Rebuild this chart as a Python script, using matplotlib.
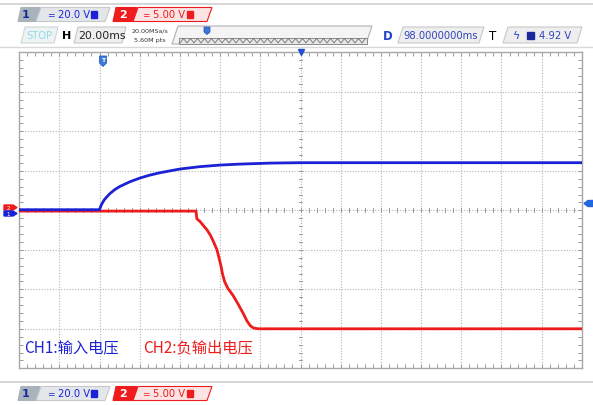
import numpy as np
import matplotlib
matplotlib.use("Agg")
import matplotlib.pyplot as plt
from matplotlib.patches import Polygon, Rectangle

# ---------------- data ----------------
# time in ms relative to the trigger, voltages in volts
ch1_t = [-40, 0, 1, 2.5, 5, 7.5, 10, 15, 20, 25, 30, 40, 50, 60, 70, 85, 100, 240]
ch1_v = [0.3, 0.3, 3.0, 5.5, 8.3, 10.4, 12.0, 14.4, 16.3, 17.8, 19.0, 20.9, 22.1, 22.9, 23.4, 23.9, 24.1, 24.1]

ch2_t = [-40, 48.0, 48.46, 50.1, 51.7, 53.4, 55.1, 56.7, 58.4, 59.6, 60.4, 61.2, 62.2,
         63.8, 66.5, 69.2, 71.6, 73.3, 75.0, 76.6, 79.1, 240]
ch2_v = [-0.1, -0.1, -1.09, -1.44, -1.94, -2.45, -3.12, -3.96, -4.97, -6.16, -7.0, -8.05, -9.0,
         -9.85, -10.8, -11.98, -13.1, -13.98, -14.6, -14.9, -15.0, -15.0]

ch1_scale = 20.0   # V/div
ch2_scale = 5.0    # V/div
h_scale = 20.0     # ms/div
labels = ["CH1:输入电压", "CH2:负输出电压"]

BLUE = "#1b22d6"
RED = "#ee1c1c"

W, H = 593, 406
fig = plt.figure(figsize=(W / 100, H / 100), dpi=100)
fig.patch.set_facecolor("white")

# ---------- UI overlay (pixel coordinates) ----------
ui = fig.add_axes([0, 0, 1, 1])
ui.set_xlim(0, W)
ui.set_ylim(H, 0)
ui.axis("off")
ui.set_zorder(1)

def para(x0, x1, y0, y1, fc, ec="#b8b8b8", slant=5, lw=0.8, z=1):
    p = Polygon([(x0, y1), (x0 + slant, y0), (x1, y0), (x1 - slant, y1)],
                closed=True, fc=fc, ec=ec, lw=lw, zorder=z)
    ui.add_patch(p)

ui.plot([0, W], [5, 5], color="#d0d0d0", lw=1.2)
ui.plot([0, W], [47.5, 47.5], color="#d8d8d8", lw=1.0)
ui.plot([0, W], [383, 383], color="#d0d0d0", lw=1.2)

def channel_row(yc):
    y0, y1 = yc - 7, yc + 7
    # channel 1
    para(18, 40, y0, y1, "#a8b3bc", ec="#a8b3bc", slant=3)
    ui.text(26, yc, "1", color="#1a2a9a", fontsize=8, fontweight="bold", va="center", ha="center")
    para(36, 110, y0, y1, "#e4e7ea", ec="#c4c8cc", slant=5)
    ui.text(51, yc, "=", color=BLUE, fontsize=6.5, va="center", ha="center")
    ui.text(58, yc, "20.0 V", color=BLUE, fontsize=7.2, va="center", ha="left")
    ui.add_patch(Rectangle((91, yc - 3.5), 6, 7, fc=BLUE, ec=BLUE, zorder=3))
    # channel 2
    para(113, 137, y0, y1, RED, ec=RED, slant=3)
    ui.text(123, yc, "2", color="white", fontsize=8, fontweight="bold", va="center", ha="center")
    para(133, 212, y0, y1, "#fde4e4", ec=RED, slant=5)
    ui.text(146, yc, "=", color=RED, fontsize=6.5, va="center", ha="center")
    ui.text(153, yc, "5.00 V", color=RED, fontsize=7.2, va="center", ha="left")
    ui.add_patch(Rectangle((187, yc - 3.5), 6, 7, fc=RED, ec=RED, zorder=3))

channel_row(15.5)
channel_row(394.5)

# second row
yc = 36
para(21, 58, yc - 8, yc + 8, "#eef3f3", ec="#cfd6d6", slant=4)
ui.text(39, yc, "STOP", color="#8fdcea", fontsize=7.2, va="center", ha="center")
ui.text(67, yc, "H", color="black", fontsize=8, fontweight="bold", va="center", ha="center")
para(74, 126, yc - 8, yc + 8, "#eeeeee", ec="#c8c8c8", slant=4)
ui.text(102, yc, "20.00ms", color="#222222", fontsize=7.8, va="center", ha="center")
ui.text(150, 31, "20.00MSa/s", color="#333333", fontsize=4.6, va="center", ha="center")
ui.text(150, 40.5, "5.60M pts", color="#333333", fontsize=4.6, va="center", ha="center")
para(172, 372, yc - 9, yc + 9, "#f4f4f4", ec="#b0b0b0", slant=6)
ui.add_patch(Rectangle((179, 38.5), 188, 6, fc="#e8e8e8", ec="#8a8a8a", lw=0.7, zorder=2))
zx = np.arange(180, 367, 3.5)
zy = np.where(np.arange(len(zx)) % 2 == 0, 44, 39.5)
ui.plot(zx, zy, color="#707070", lw=0.6, zorder=3)
ui.add_patch(Polygon([(204, 28), (210, 28), (210, 33), (207, 35.5), (204, 33)], fc="#3b78d8", ec="#2050b0", lw=0.5, zorder=4))
ui.text(388, yc, "D", color="#2244cc", fontsize=8.5, fontweight="bold", va="center", ha="center")
para(398, 484, yc - 8, yc + 8, "#eeeeee", ec="#c8c8c8", slant=5)
ui.text(441, yc, "98.0000000ms", color="#3344bb", fontsize=7.2, va="center", ha="center")
ui.text(493, yc, "T", color="black", fontsize=8.5, va="center", ha="center")
para(503, 582, yc - 8, yc + 8, "#eeeeee", ec="#c8c8c8", slant=5)
ui.text(517, yc, "ϟ", color="#2244cc", fontsize=8, va="center", ha="center")
ui.add_patch(Rectangle((527, yc - 3.5), 7, 7, fc="#1a2a9a", ec="#1a2a9a", zorder=3))
ui.text(555, yc, "4.92 V", color="#3344bb", fontsize=7.2, va="center", ha="center")

# channel ground markers (left) and trigger level marker (right)
ui.add_patch(Polygon([(4, 206), (13, 206), (17, 208.5), (13, 211), (4, 211)], fc=RED, ec=RED, zorder=5))
ui.text(8, 208.5, "2", color="white", fontsize=4, va="center", ha="center", zorder=6)
ui.add_patch(Polygon([(4, 212), (13, 212), (17, 214.5), (13, 217), (4, 217)], fc=BLUE, ec=BLUE, zorder=5))
ui.text(8, 214.5, "1", color="white", fontsize=4, va="center", ha="center", zorder=6)
ui.add_patch(Polygon([(593, 201.5), (588, 201.5), (584, 204.5), (588, 207.5), (593, 207.5)], fc="#2266dd", ec="#2266dd", zorder=5))

# ---------- scope screen ----------
left, right, top, bottom = 19.1, 581.9, 53.3, 369.3
ax = fig.add_axes([left / W, (H - bottom) / H, (right - left) / W, (bottom - top) / H])
ax.set_zorder(2)
ax.set_facecolor("white")
xmin, xmax = -2 * h_scale, 12 * h_scale
ax.set_xlim(xmin, xmax)
ax.set_ylim(-4, 4)

grid_c = "#b5b5b5"
for k in range(1, 14):
    ax.axvline(xmin + k * h_scale, color=grid_c, lw=0.8, ls=(0, (1, 1.5)), zorder=1)
for k in range(-3, 4):
    ax.axhline(k, color=grid_c, lw=0.8, ls=(0, (1, 1.5)), zorder=1)

# ruler ticks on border and centre lines
for s in ax.spines.values():
    s.set_color("#a8a8a8")
    s.set_linewidth(1.0)
ax.set_xticks(np.arange(xmin, xmax + 0.1, h_scale / 5))
ax.set_yticks(np.arange(-4, 4.01, 0.2))
ax.tick_params(axis="both", which="both", direction="in", length=3, width=0.7,
               color="#9a9a9a", top=True, right=True, labelbottom=False, labelleft=False)
xc = xmin + 7 * h_scale
for xt in np.arange(xmin, xmax + 0.1, h_scale / 5):
    ax.plot([xt, xt], [-0.05, 0.05], color="#9a9a9a", lw=0.7, zorder=1)
for yt in np.arange(-4, 4.01, 0.2):
    ax.plot([xc - 0.7, xc + 0.7], [yt, yt], color="#9a9a9a", lw=0.7, zorder=1)

# traces
ax.plot(ch2_t, np.array(ch2_v) / ch2_scale, color=RED, lw=2.0, zorder=3,
        solid_joinstyle="round", solid_capstyle="round")
ax.plot(ch1_t, np.array(ch1_v) / ch1_scale, color=BLUE, lw=2.0, zorder=4,
        solid_joinstyle="round", solid_capstyle="round")

# trigger position marker (badge) and centre marker, drawn in pixel coords on the screen axes
ax.add_patch(Polygon([(99.5, 57), (106.5, 57), (106.5, 64), (103, 67.5), (99.5, 64)],
                     fc="#3b78d8", ec="#2a5fc0", lw=0.6, zorder=10,
                     transform=ui.transData, clip_on=False))
ax.text(103, 61, "T", color="white", fontsize=4.5, fontweight="bold", va="center",
        ha="center", zorder=11, transform=ui.transData)
ax.plot([xc], [4.0], marker="v", ms=5, color="#2050d0", zorder=5, clip_on=False)

fp = ["Noto Sans CJK SC", "DejaVu Sans"]
ax.text(-37.4, -3.45, labels[0], color=BLUE, fontsize=11, family=fp, va="center", ha="left")
ax.text(21.8, -3.45, labels[1], color=RED, fontsize=11, family=fp, va="center", ha="left")

fig.savefig("out.png", dpi=100)
